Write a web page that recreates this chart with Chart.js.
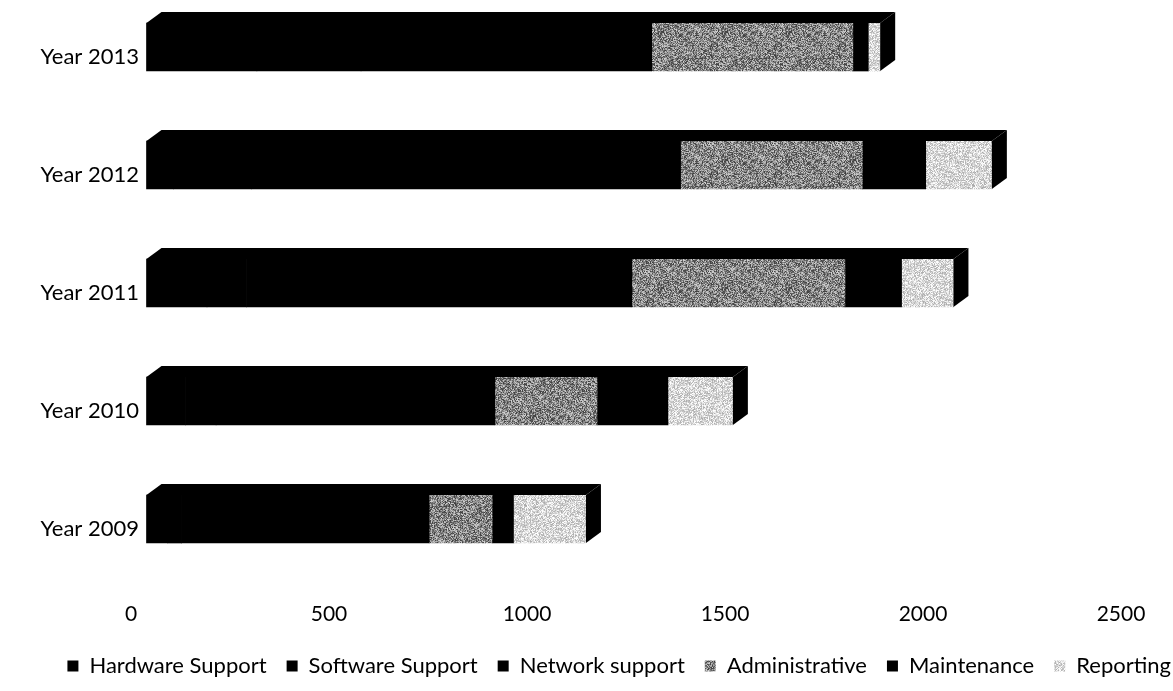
<!DOCTYPE html>
<html>
<head>
<meta charset="utf-8">
<title>Support costs by year</title>
<script src="https://cdn.jsdelivr.net/npm/chart.js@4.4.1/dist/chart.umd.min.js"></script>
<style>
  html, body { margin: 0; padding: 0; background: #ffffff; }
  #wrap { width: 1173px; height: 691px; }
</style>
</head>
<body>
<div id="wrap"><canvas id="chart" width="1173" height="691"></canvas></div>
<script>
// Categories, bottom to top
const years = ['Year 2009', 'Year 2010', 'Year 2011', 'Year 2012', 'Year 2013'];

// Cost per area, one value per year (same order as years)
const hardwareSupport = [55, 100, 154, 70, 280];
const softwareSupport = [35, 77, 100, 197, 263];
const networkSupport  = [625, 704, 973, 1083, 734];
const administrative  = [159, 258, 538, 459, 508];
const maintenance     = [54, 179, 143, 160, 39];
const reporting       = [183, 164, 131, 167, 30];

// Value axis ticks
const axisMin = 0;
const axisMax = 2500;
const axisStep = 500;

const FONT = 'Lato, "Open Sans", "Noto Sans", sans-serif';

// Grainy fill made from a fixed integer hash (same texture every load)
function hash(n) {
  n = (n ^ 61) ^ (n >>> 16);
  n = (n + (n << 3)) | 0;
  n = n ^ (n >>> 4);
  n = Math.imul(n, 0x27d4eb2d);
  n = n ^ (n >>> 15);
  return ((n >>> 0) % 1000) / 1000;
}
function grain(base, amp, seed) {
  const size = 64;
  const c = document.createElement('canvas');
  c.width = size; c.height = size;
  const g = c.getContext('2d');
  const img = g.createImageData(size, size);
  for (let i = 0; i < size * size; i++) {
    let v = base + (hash(i * 7 + seed) - 0.5) * amp;
    v = Math.max(0, Math.min(255, Math.round(v)));
    img.data[i * 4] = v;
    img.data[i * 4 + 1] = v;
    img.data[i * 4 + 2] = v;
    img.data[i * 4 + 3] = 255;
  }
  g.putImageData(img, 0, 0);
  return g.createPattern(c, 'repeat');
}

const adminFill = grain(135, 150, 11);
const reportFill = grain(215, 90, 97);

// Oblique top and end faces that give the bars depth
const DEPTH_X = 15;
const DEPTH_Y = 11;
const depthFaces = {
  id: 'depthFaces',
  afterDatasetsDraw(chart) {
    const ctx = chart.ctx;
    const metas = chart.data.datasets.map((d, i) => chart.getDatasetMeta(i));
    const n = chart.data.labels.length;
    ctx.save();
    ctx.fillStyle = '#000000';
    for (let i = 0; i < n; i++) {
      const first = metas[0].data[i];
      const last = metas[metas.length - 1].data[i];
      const x0 = Math.min(first.base, first.x);
      const x1 = Math.max(last.x, last.base);
      const top = first.y - first.height / 2;
      const bottom = first.y + first.height / 2;
      // top face
      ctx.beginPath();
      ctx.moveTo(x0, top);
      ctx.lineTo(x0 + DEPTH_X, top - DEPTH_Y);
      ctx.lineTo(x1 + DEPTH_X, top - DEPTH_Y);
      ctx.lineTo(x1, top);
      ctx.closePath();
      ctx.fill();
      // end face
      ctx.beginPath();
      ctx.moveTo(x1, top);
      ctx.lineTo(x1 + DEPTH_X, top - DEPTH_Y);
      ctx.lineTo(x1 + DEPTH_X, bottom - DEPTH_Y);
      ctx.lineTo(x1, bottom);
      ctx.closePath();
      ctx.fill();
    }
    ctx.restore();
  }
};

// Let the legend row run right up to the canvas edge
const legendToEdge = {
  id: 'legendToEdge',
  afterLayout(chart) {
    if (chart.legend) {
      chart.legend.left += 18;
      chart.legend.right += 18;
    }
  }
};

const series = [
  { label: 'Hardware Support', data: hardwareSupport, backgroundColor: '#000000' },
  { label: 'Software Support', data: softwareSupport, backgroundColor: '#000000' },
  { label: 'Network support',  data: networkSupport,  backgroundColor: '#000000' },
  { label: 'Administrative',   data: administrative,  backgroundColor: adminFill },
  { label: 'Maintenance',      data: maintenance,     backgroundColor: '#000000' },
  { label: 'Reporting',        data: reporting,       backgroundColor: reportFill }
];

new Chart(document.getElementById('chart'), {
  type: 'bar',
  data: {
    labels: years,
    datasets: series.map(s => Object.assign({
      borderWidth: 0,
      barThickness: 48,
      clip: false
    }, s))
  },
  options: {
    indexAxis: 'y',
    responsive: false,
    animation: false,
    devicePixelRatio: 1,
    layout: { padding: { top: 47, right: 0, bottom: 4, left: 0 } },
    scales: {
      x: {
        stacked: true,
        min: axisMin,
        max: axisMax,
        grid: {
          display: true,
          drawOnChartArea: false,
          drawTicks: true,
          tickLength: 80,
          tickColor: 'rgba(0,0,0,0)'
        },
        border: { display: false },
        ticks: {
          stepSize: axisStep,
          padding: 3,
          labelOffset: -15,
          color: '#000000',
          font: { family: FONT, size: 21 },
          callback: (v) => String(v)
        },
        afterFit(scale) {
          scale.height = 116;
          scale.paddingRight = 37;
        }
      },
      y: {
        stacked: true,
        reverse: true,
        offset: false,
        grid: { display: false, drawTicks: false },
        border: { display: false },
        ticks: {
          padding: 7,
          labelOffset: 10,
          color: '#000000',
          font: { family: FONT, size: 22 }
        },
        afterFit(scale) { scale.width = 146; }
      }
    },
    plugins: {
      legend: {
        position: 'bottom',
        align: 'end',
        labels: {
          boxWidth: 11,
          boxHeight: 11,
          padding: 20,
          color: '#000000',
          font: { family: FONT, size: 22 }
        }
      },
      tooltip: { enabled: false }
    }
  },
  plugins: [depthFaces, legendToEdge]
});
</script>
</body>
</html>
